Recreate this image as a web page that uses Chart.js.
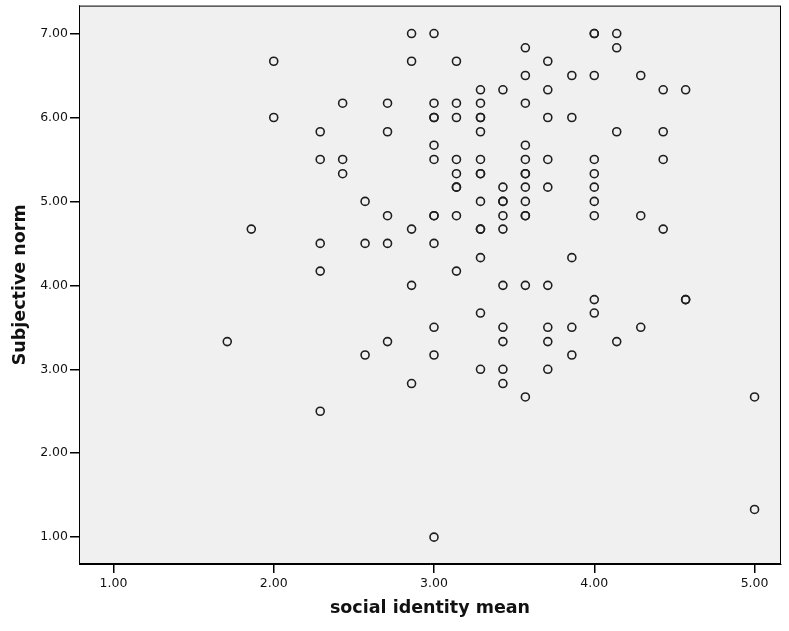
<!DOCTYPE html>
<html>
<head>
<meta charset="utf-8">
<script src="https://cdn.jsdelivr.net/npm/chart.js@4/dist/chart.umd.min.js"></script>
<style>
  html, body { margin: 0; padding: 0; background: #fff; }
  #wrap { width: 789px; height: 631px; }
</style>
</head>
<body>
<div id="wrap"><canvas id="scatter" width="789" height="631"></canvas></div>
<script>
// social identity mean (x) and subjective norm (y), one entry per respondent
const socialIdentity = [
  1.71,
  1.86,
  2.00, 2.00,
  2.29, 2.29, 2.29, 2.29, 2.29,
  2.43, 2.43, 2.43,
  2.57, 2.57, 2.57,
  2.71, 2.71, 2.71, 2.71, 2.71,
  2.86, 2.86, 2.86, 2.86, 2.86,
  3.00, 3.00, 3.00, 3.00, 3.00, 3.00, 3.00, 3.00, 3.00, 3.00, 3.00, 3.00,
  3.14, 3.14, 3.14, 3.14, 3.14, 3.14, 3.14, 3.14, 3.14,
  3.29, 3.29, 3.29, 3.29, 3.29, 3.29, 3.29, 3.29, 3.29, 3.29, 3.29, 3.29, 3.29, 3.29,
  3.43, 3.43, 3.43, 3.43, 3.43, 3.43, 3.43, 3.43, 3.43, 3.43, 3.43,
  3.57, 3.57, 3.57, 3.57, 3.57, 3.57, 3.57, 3.57, 3.57, 3.57, 3.57, 3.57, 3.57,
  3.71, 3.71, 3.71, 3.71, 3.71, 3.71, 3.71, 3.71, 3.71,
  3.86, 3.86, 3.86, 3.86, 3.86,
  4.00, 4.00, 4.00, 4.00, 4.00, 4.00, 4.00, 4.00, 4.00, 4.00,
  4.14, 4.14, 4.14, 4.14,
  4.29, 4.29, 4.29,
  4.43, 4.43, 4.43, 4.43,
  4.57, 4.57, 4.57,
  5.00, 5.00
];

const subjectiveNorm = [
  3.33,
  4.67,
  6.67, 6.00,
  5.83, 5.50, 4.50, 4.17, 2.50,
  6.17, 5.50, 5.33,
  5.00, 4.50, 3.17,
  6.17, 5.83, 4.83, 4.50, 3.33,
  7.00, 6.67, 4.67, 4.00, 2.83,
  7.00, 6.17, 6.00, 6.00, 5.67, 5.50, 4.83, 4.83, 4.50, 3.50, 3.17, 1.00,
  6.67, 6.17, 6.00, 5.50, 5.33, 5.17, 5.17, 4.83, 4.17,
  6.33, 6.17, 6.00, 6.00, 5.83, 5.50, 5.33, 5.33, 5.00, 4.67, 4.67, 4.33, 3.67, 3.00,
  6.33, 5.17, 5.00, 5.00, 4.83, 4.67, 4.00, 3.50, 3.33, 3.00, 2.83,
  6.83, 6.50, 6.17, 5.67, 5.50, 5.33, 5.33, 5.17, 5.00, 4.83, 4.83, 4.00, 2.67,
  6.67, 6.33, 6.00, 5.50, 5.17, 4.00, 3.50, 3.33, 3.00,
  6.50, 6.00, 4.33, 3.50, 3.17,
  7.00, 7.00, 6.50, 5.50, 5.33, 5.17, 5.00, 4.83, 3.83, 3.67,
  7.00, 6.83, 5.83, 3.33,
  6.50, 4.83, 3.50,
  6.33, 5.83, 5.50, 4.67,
  6.33, 3.83, 3.83,
  2.67, 1.33
];

const xTicks = [1, 2, 3, 4, 5];
const yTicks = [1, 2, 3, 4, 5, 6, 7];

const points = socialIdentity.map((x, i) => ({ x: x, y: subjectiveNorm[i] }));

// grey plot area + black frame, like SPSS output
const frame = {
  id: "frame",
  beforeDatasetsDraw(chart) {
    const { ctx, chartArea: a } = chart;
    ctx.save();
    ctx.fillStyle = "#f0f0f0";
    ctx.fillRect(a.left, a.top, a.right - a.left, a.bottom - a.top);
    ctx.strokeStyle = "#000";
    ctx.lineWidth = 1;
    ctx.strokeRect(a.left + 0.5, a.top + 0.5, a.right - a.left - 1, a.bottom - a.top - 1);
    ctx.restore();
  }
};

const tickFont = { family: "DejaVu Sans", size: 12.5 };
const titleFont = { family: "DejaVu Sans", size: 17.5, weight: "bold" };

new Chart(document.getElementById("scatter"), {
  type: "scatter",
  data: {
    datasets: [{
      data: points,
      pointRadius: 4,
      pointHoverRadius: 4,
      pointBorderWidth: 1.6,
      pointBorderColor: "#1e1e1e",
      pointBackgroundColor: "rgba(0,0,0,0)"
    }]
  },
  options: {
    responsive: false,
    animation: false,
    events: [],
    layout: { padding: { top: 5, right: 8, left: 0, bottom: 0 } },
    plugins: {
      legend: { display: false },
      tooltip: { enabled: false }
    },
    scales: {
      x: {
        type: "linear",
        min: 0.785,
        max: 5.165,
        afterBuildTicks: s => { s.ticks = xTicks.map(v => ({ value: v })); },
        afterFit: s => { s.height = 67; s.paddingLeft = 0; s.paddingRight = 0; },
        ticks: {
          color: "#111",
          font: tickFont,
          padding: 3,
          maxRotation: 0,
          callback: v => v.toFixed(2)
        },
        grid: { drawOnChartArea: false, tickLength: 9, lineWidth: 1.5, color: "#000" },
        border: { display: true, color: "#000", width: 1 },
        title: {
          display: true,
          text: "social identity mean",
          color: "#111",
          font: titleFont,
          padding: { top: 0, bottom: 12 }
        }
      },
      y: {
        type: "linear",
        min: 0.68,
        max: 7.333,
        afterBuildTicks: s => { s.ticks = yTicks.map(v => ({ value: v })); },
        afterFit: s => { s.width = 79; s.paddingTop = 0; s.paddingBottom = 0; },
        ticks: {
          color: "#111",
          font: tickFont,
          padding: 2,
          callback: v => v.toFixed(2)
        },
        grid: { drawOnChartArea: false, tickLength: 9, lineWidth: 1.5, color: "#000" },
        border: { display: true, color: "#000", width: 1 },
        title: {
          display: true,
          text: "Subjective norm",
          color: "#111",
          font: titleFont,
          padding: { top: 10, bottom: 0 }
        }
      }
    }
  },
  plugins: [frame]
});
</script>
</body>
</html>
